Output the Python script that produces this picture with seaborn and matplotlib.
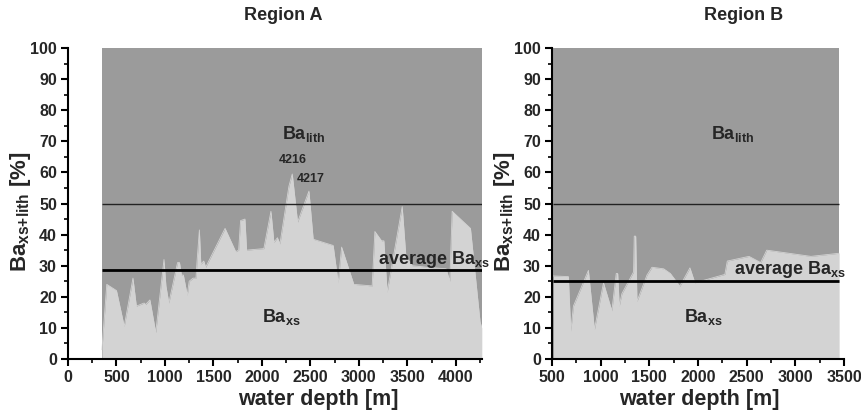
import matplotlib
matplotlib.use("Agg")
import matplotlib.pyplot as plt
from matplotlib.ticker import MultipleLocator
import seaborn as sns
import pandas as pd

# ---- data ----
depth_a = [350, 400, 500, 580, 670, 705, 785, 800, 845, 905, 990, 1010, 1040,
           1130, 1150, 1170, 1190, 1230, 1250, 1290, 1320, 1330, 1355, 1370,
           1400, 1420, 1620, 1730, 1760, 1780, 1825, 1842, 2020, 2093, 2124,
           2160, 2186, 2278, 2313, 2368, 2485, 2529, 2735, 2787, 2822, 2948,
           3137, 3165, 3234, 3258, 3292, 3447, 3485, 3550, 3700, 3900, 3938,
           3962, 4151, 4250, 4268]
baxs_a = [3, 24, 22, 10.5, 26, 17, 18, 17.5, 19, 8.5, 32, 23.5, 18,
          31, 31, 27, 27, 20.5, 25, 26, 26, 31, 41.5, 30.5,
          31.5, 29.5, 42, 34.5, 35, 44.5, 45, 35, 35.5, 47.5, 37.5,
          39, 37, 55.5, 59.5, 44, 54, 38.5, 36.5, 24.5, 36, 24,
          23.5, 41, 38, 38, 21.5, 49, 33, 30, 29.5, 29, 25,
          47.5, 42, 12, 10]

depth_b = [515, 668, 693, 720, 874, 936, 1029, 1115, 1160, 1175, 1191, 1218,
           1304, 1338, 1345, 1360, 1373, 1476, 1527, 1647, 1716, 1814, 1917,
           1968, 2276, 2301, 2524, 2644, 2706, 3160, 3450]
baxs_b = [26.7, 26.5, 9, 17, 28.5, 9.5, 24.5, 15.5, 27.5, 27.5, 17, 21,
          26, 28, 39.5, 39.5, 18.5, 27, 29.5, 29, 27.5, 23.4, 29.3,
          24.5, 27.2, 31.5, 33, 31, 35, 33, 34]

avg_a = 28.6
avg_b = 25.0
ref_level = 50
full_level = 100

titles = ["Region A", "Region B"]

# ---- style ----
sns.set_theme(style="ticks")
plt.rcParams['font.family'] = ['Liberation Sans', 'DejaVu Sans']
plt.rcParams['font.weight'] = 'bold'
plt.rcParams['mathtext.fontset'] = 'custom'
plt.rcParams['mathtext.rm'] = 'Liberation Sans:bold'
plt.rcParams['mathtext.it'] = 'Liberation Sans:bold'
plt.rcParams['mathtext.bf'] = 'Liberation Sans:bold'
plt.rcParams['mathtext.default'] = 'rm'

dark = '#9b9b9b'
light = '#d3d3d3'

W, H = 862, 412
fig = plt.figure(figsize=(W / 100, H / 100), dpi=100)
axA = fig.add_axes([68 / W, 53 / H, 414 / W, 311 / H])
axB = fig.add_axes([552 / W, 53 / H, 292 / W, 311 / H])


def draw(ax, depth, baxs, avg, xlim, ax_w, xlabel_x):
    df = pd.DataFrame({"depth": depth, "baxs": baxs})
    ax.fill_between([depth[0], depth[-1]], 0, full_level, color=dark, lw=0)
    ax.fill_between(df["depth"], 0, df["baxs"], color=light, lw=0)
    sns.lineplot(data=df, x="depth", y="baxs", ax=ax, color=light, lw=0.6,
                 sort=False, estimator=None)
    ax.hlines(ref_level, depth[0], depth[-1], color='#222222', lw=1.0)
    ax.hlines(avg, depth[0], depth[-1], color='black', lw=2.0)
    ax.set_xlim(*xlim)
    ax.set_ylim(0, 100)
    ax.yaxis.set_major_locator(MultipleLocator(10))
    ax.yaxis.set_minor_locator(MultipleLocator(5))
    ax.xaxis.set_major_locator(MultipleLocator(500))
    ax.xaxis.set_minor_locator(MultipleLocator(250))
    ax.tick_params(which='major', direction='out', length=5, width=1.5,
                   labelsize=11.5, color='black', pad=3)
    ax.tick_params(which='minor', direction='out', length=3, width=1.2,
                   color='black')
    for lab in ax.get_xticklabels() + ax.get_yticklabels():
        lab.set_fontweight('bold')
    sns.despine(ax=ax)
    for s in ['left', 'bottom']:
        ax.spines[s].set_linewidth(1.5)
        ax.spines[s].set_color('black')
    ax.set_xlabel("water depth [m]", fontsize=15.5, fontweight='bold')
    ax.set_ylabel("Ba$_{\\mathrm{xs{+}lith}}$ [%]", fontsize=16,
                  fontweight='bold')
    ax.yaxis.set_label_coords(-35 / ax_w, 0.475)
    ax.xaxis.set_label_coords(xlabel_x, -41 / 311)
    ax.xaxis.label.set_verticalalignment('center')
    ax.grid(False)


draw(axA, depth_a, baxs_a, avg_a, (0, 4270), 414, (318 - 68) / 414)
draw(axB, depth_b, baxs_b, avg_b, (500, 3500), 292, (699 - 552) / 292)

tfs = 13
axA.text(2206, 70.6, "Ba$_{lith}$", fontsize=tfs, fontweight='bold')
axA.text(1997, 12.0, "Ba$_{xs}$", fontsize=tfs, fontweight='bold')
axA.text(3199, 30.4, "average Ba$_{xs}$", fontsize=tfs, fontweight='bold',
         clip_on=False)
axA.text(2178, 63.0, "4216", fontsize=9, fontweight='bold')
axA.text(2364, 56.8, "4217", fontsize=9, fontweight='bold')

axB.text(2132, 70.6, "Ba$_{lith}$", fontsize=tfs, fontweight='bold')
axB.text(1855, 11.8, "Ba$_{xs}$", fontsize=tfs, fontweight='bold')
axB.text(2369, 27.2, "average Ba$_{xs}$", fontsize=tfs, fontweight='bold',
         clip_on=False)

fig.text(283 / W, 1 - 15 / H, titles[0], ha='center', va='center',
         fontsize=13, fontweight='bold')
fig.text(744 / W, 1 - 15 / H, titles[1], ha='center', va='center',
         fontsize=13, fontweight='bold')

fig.savefig("out.png", dpi=100, facecolor='white')
